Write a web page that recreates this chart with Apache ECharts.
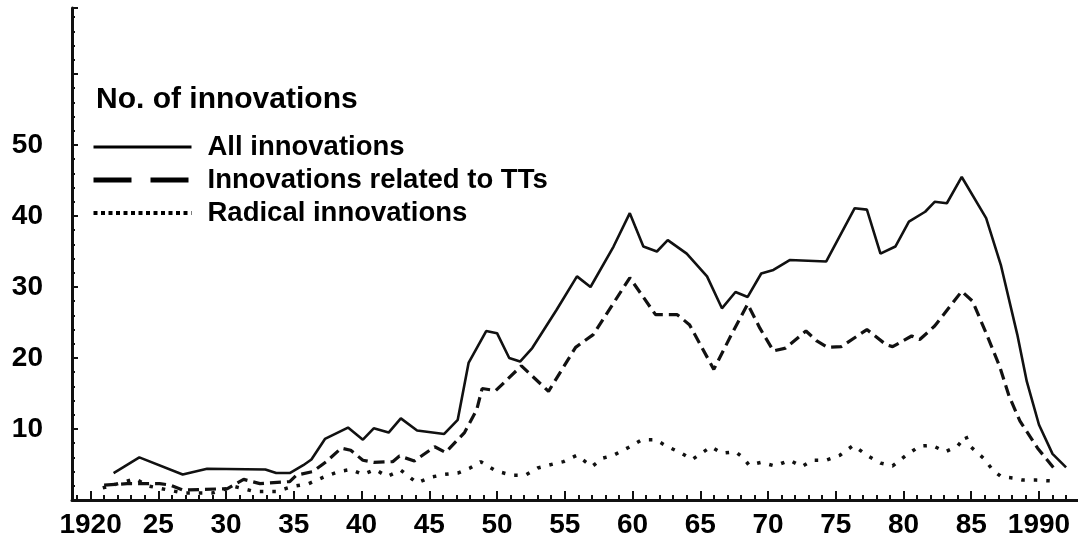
<!DOCTYPE html>
<html>
<head>
<meta charset="utf-8">
<title>No. of innovations</title>
<script src="https://cdn.jsdelivr.net/npm/echarts@6/dist/echarts.min.js"></script>
<style>
  html, body { margin: 0; padding: 0; background: #fff; }
  #main { width: 1078px; height: 546px; }
</style>
</head>
<body>
<div id="main"></div>
<script>
// x axis labels (years)
var tickYears = [1920, 1925, 1930, 1935, 1940, 1945, 1950, 1955, 1960, 1965, 1970, 1975, 1980, 1985, 1990];
var minorYears = [];
for (var yr = 1919; yr <= 1992; yr++) minorYears.push(yr);

// All innovations (vertices)
var allYears = [1921.7, 1923.6, 1926.8, 1928.6, 1932.9, 1933.7, 1934.7, 1935.7, 1936.3, 1937.3, 1939.0, 1940.1,
    1940.9, 1942.0, 1942.9, 1944.1, 1946.1, 1947.1, 1947.9, 1949.2, 1950.0, 1950.9, 1951.7, 1952.6, 1954.4,
    1955.9, 1956.9, 1958.6, 1959.8, 1960.8, 1961.8, 1962.6, 1964.0, 1965.5, 1966.6, 1967.6, 1968.5, 1969.5,
    1970.4, 1971.6, 1974.3, 1976.4, 1977.3, 1978.3, 1979.4, 1980.4, 1981.6, 1982.3, 1983.2, 1984.3, 1986.1,
    1987.2, 1988.4, 1989.1, 1990.0, 1991.0, 1992.0];
var allValues = [3.8, 6.0, 3.6, 4.4, 4.3, 3.8, 3.8, 4.9, 5.7, 8.6, 10.2, 8.5,
    10.1, 9.5, 11.5, 9.8, 9.3, 11.3, 19.3, 23.8, 23.5, 20.0, 19.5, 21.4, 26.8,
    31.5, 30.0, 35.7, 40.4, 35.7, 35.0, 36.6, 34.7, 31.5, 27.0, 29.3, 28.6, 31.9,
    32.4, 33.8, 33.6, 41.1, 40.9, 34.7, 35.7, 39.2, 40.6, 42.0, 41.8, 45.5, 39.7,
    33.0, 23.3, 16.7, 10.6, 6.5, 4.6];

// Innovations related to TTs
var ttYears = [1921.0, 1922.7, 1925.1, 1925.9, 1926.8, 1930.1, 1931.3, 1932.5, 1934.7, 1935.2, 1936.4, 1937.4,
    1938.5, 1939.2, 1940.1, 1940.9, 1942.3, 1942.8, 1943.9, 1945.4, 1946.2, 1947.6, 1948.5, 1948.9, 1949.9,
    1951.8, 1953.8, 1955.8, 1957.1, 1959.8, 1961.7, 1963.3, 1964.2, 1966.0, 1967.3, 1968.5, 1969.4, 1970.4,
    1971.3, 1972.8, 1973.6, 1974.4, 1975.4, 1977.3, 1978.7, 1979.2, 1980.6, 1981.2, 1982.3, 1984.3, 1985.1,
    1986.1, 1987.1, 1987.8, 1988.6, 1989.9, 1991.3];
var ttValues = [2.1, 2.3, 2.3, 2.1, 1.4, 1.6, 2.9, 2.3, 2.6, 3.5, 4.0, 5.4,
    7.3, 7.0, 5.6, 5.3, 5.4, 6.2, 5.5, 7.5, 6.7, 9.5, 12.7, 15.7, 15.4,
    18.9, 15.3, 21.5, 23.3, 31.3, 26.1, 26.1, 24.7, 18.4, 23.3, 27.6, 24.2, 21.0,
    21.4, 23.8, 22.4, 21.5, 21.6, 24.0, 21.9, 21.6, 23.1, 22.6, 24.5, 29.4, 28.0,
    23.5, 18.8, 14.6, 11.1, 7.3, 4.0];

// Radical innovations
var radYears = [1920.9, 1923.3, 1924.2, 1926.8, 1929.0, 1930.6, 1932.1, 1933.7, 1934.9, 1936.1, 1937.3, 1938.3,
    1939.2, 1940.1, 1941.0, 1941.9, 1942.9, 1944.1, 1945.1, 1946.1, 1947.1, 1948.0, 1948.8, 1949.9, 1951.1,
    1952.1, 1953.0, 1954.2, 1954.9, 1955.9, 1957.0, 1957.8, 1958.6, 1959.7, 1960.7, 1961.7, 1962.5, 1963.6,
    1964.4, 1965.1, 1965.8, 1966.6, 1967.6, 1968.2, 1968.6, 1969.5, 1970.5, 1971.6, 1972.5, 1973.3, 1974.3,
    1975.3, 1976.3, 1977.3, 1978.3, 1979.2, 1980.2, 1981.2, 1982.1, 1983.1, 1984.0, 1984.6, 1984.9, 1985.9,
    1986.6, 1987.2, 1988.1, 1988.8, 1989.8, 1990.8];
var radValues = [1.7, 3.0, 2.0, 1.0, 1.0, 1.9, 1.2, 1.2, 1.9, 2.3, 3.3, 4.0,
    4.3, 3.6, 4.3, 3.3, 4.2, 2.4, 3.2, 3.6, 3.8, 4.5, 5.4, 4.1, 3.5,
    3.5, 4.5, 5.1, 5.4, 6.3, 4.7, 5.9, 6.3, 7.4, 8.5, 8.5, 7.6, 6.6,
    5.7, 6.6, 7.5, 6.6, 6.8, 5.9, 4.9, 5.3, 4.8, 5.6, 4.7, 5.6, 5.6,
    6.3, 7.7, 6.3, 5.2, 4.8, 6.3, 7.6, 7.7, 6.8, 7.6, 9.0, 7.6, 5.9,
    4.2, 3.3, 3.1, 2.8, 2.8, 2.7];

var FONT = "'Liberation Sans', Arial, sans-serif";
var INK = '#111';
var noSymbol = { color: 'transparent', borderWidth: 0, opacity: 0 };

function pairs(xs, ys) {
    var out = [];
    for (var i = 0; i < xs.length; i++) out.push([xs[i], ys[i]]);
    return out;
}

var chart = echarts.init(document.getElementById('main'));

var option = {
    backgroundColor: '#fff',
    animation: false,
    title: {
        text: 'No. of innovations',
        left: 91,
        top: 80,
        textStyle: { fontFamily: FONT, fontSize: 30, fontWeight: 'bold', color: '#000' }
    },
    legend: {
        orient: 'vertical',
        left: 86,
        top: 127,
        itemWidth: 98,
        itemHeight: 14,
        itemGap: 3,
        textStyle: {
            fontFamily: FONT, fontSize: 27.5, fontWeight: 'bold', color: '#000',
            lineHeight: 30, padding: [0, 0, 0, 11]
        },
        data: [
            { name: 'All innovations', itemStyle: noSymbol,
              lineStyle: { width: 3, type: 'solid', color: '#000' } },
            { name: 'Innovations related to TTs', itemStyle: noSymbol,
              lineStyle: { width: 5, type: [38, 19], color: '#000' } },
            { name: 'Radical innovations', itemStyle: noSymbol,
              lineStyle: { width: 4, type: [4, 3.5], color: '#000' } }
        ]
    },
    grid: { left: 72, right: 0, top: 8, bottom: 46 },
    xAxis: [
        {
            type: 'value',
            min: 1918.63,
            max: 1992.88,
            splitLine: { show: false },
            axisLine: { onZero: false, lineStyle: { color: INK, width: 3 } },
            axisTick: { inside: true, length: 9, customValues: tickYears, lineStyle: { color: INK, width: 2 } },
            axisLabel: {
                customValues: tickYears,
                margin: 11,
                fontFamily: FONT, fontSize: 28, fontWeight: 'bold', color: '#000',
                formatter: function (v) {
                    return (v === 1920 || v === 1990) ? String(v) : String(v).slice(2);
                }
            }
        },
        {
            // yearly minor ticks
            type: 'value',
            min: 1918.63,
            max: 1992.88,
            position: 'bottom',
            splitLine: { show: false },
            axisLine: { show: false },
            axisLabel: { show: false },
            axisTick: { inside: true, length: 5, customValues: minorYears, lineStyle: { color: INK, width: 2 } }
        }
    ],
    yAxis: {
        type: 'value',
        min: 0,
        max: 69.3,
        interval: 10,
        splitLine: { show: false },
        axisLine: { show: true, lineStyle: { color: INK, width: 3 } },
        axisTick: { show: true, inside: true, length: 6, lineStyle: { color: INK, width: 2 } },
        minorTick: { show: true, splitNumber: 5, length: 3, lineStyle: { color: INK, width: 2 } },
        axisLabel: {
            margin: 29,
            fontFamily: FONT, fontSize: 28, fontWeight: 'bold', color: '#000',
            formatter: function (v) { return (v > 0 && v <= 50) ? String(v) : ''; }
        }
    },
    series: [
        {
            name: 'All innovations',
            type: 'line',
            symbol: 'none',
            color: '#000',
            lineStyle: { color: INK, width: 2.6 },
            data: pairs(allYears, allValues)
        },
        {
            name: 'Innovations related to TTs',
            type: 'line',
            symbol: 'none',
            color: '#000',
            lineStyle: { color: INK, width: 3.2, type: [11, 6] },
            data: pairs(ttYears, ttValues)
        },
        {
            name: 'Radical innovations',
            type: 'line',
            symbol: 'none',
            color: '#000',
            lineStyle: { color: INK, width: 3.5, type: [3.5, 9] },
            data: pairs(radYears, radValues)
        }
    ]
};

chart.setOption(option);
</script>
</body>
</html>
